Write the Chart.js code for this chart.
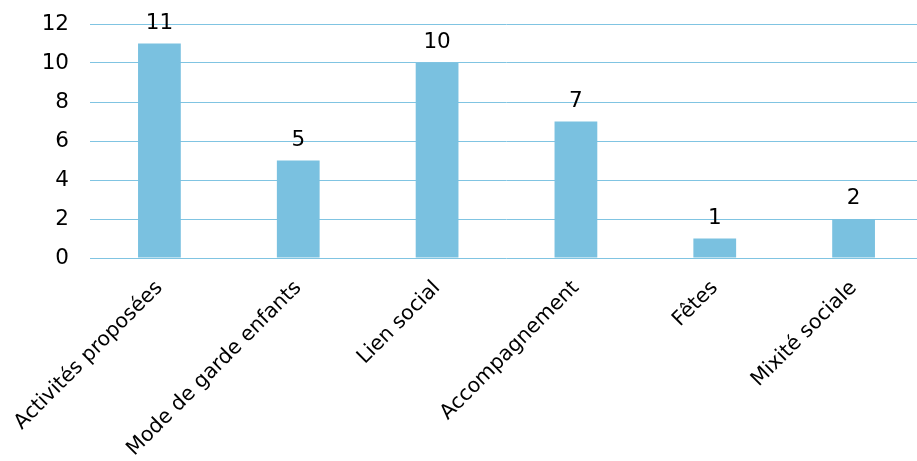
<!DOCTYPE html>
<html>
<head>
<meta charset="utf-8">
<script src="https://cdn.jsdelivr.net/npm/chart.js@4/dist/chart.umd.min.js"></script>
<style>
html,body{margin:0;padding:0;background:#fff;overflow:hidden;width:917px;height:461px;}
canvas{display:block;}
</style>
</head>
<body>
<canvas id="c" width="923" height="461" style="width:923px;height:461px"></canvas>
<script>
const categories = ["Activités proposées", "Mode de garde enfants", "Lien social", "Accompagnement", "Fêtes", "Mixité sociale"];
const values = [11, 5, 10, 7, 1, 2];
const yTicks = [0, 2, 4, 6, 8, 10, 12];

const FONT = "'DejaVu Sans', Verdana, sans-serif";
const BAR = '#7AC1E0';
const GRID = '#80C4E2';

const valueLabels = {
  id: 'valueLabels',
  afterDatasetsDraw(chart) {
    const ctx = chart.ctx;
    const meta = chart.getDatasetMeta(0);
    ctx.save();
    ctx.font = '21.5px ' + FONT;
    ctx.fillStyle = '#000';
    ctx.textAlign = 'center';
    ctx.textBaseline = 'alphabetic';
    meta.data.forEach((bar, i) => {
      ctx.fillText(String(values[i]), bar.x, bar.y - 15);
    });
    ctx.restore();
  }
};

new Chart(document.getElementById('c'), {
  type: 'bar',
  data: {
    labels: categories,
    datasets: [{
      data: values,
      backgroundColor: BAR,
      borderWidth: 0,
      categoryPercentage: 1,
      barPercentage: 0.308
    }]
  },
  options: {
    responsive: false,
    animation: false,
    layout: { padding: { top: 24, left: 0, right: 0, bottom: 0 } },
    plugins: { legend: { display: false }, tooltip: { enabled: false } },
    scales: {
      x: {
        grid: { display: false, drawTicks: false },
        border: { display: false },
        ticks: {
          color: '#000',
          font: { family: FONT, size: 20.5 },
          minRotation: 45, maxRotation: 45,
          padding: 18,
          autoSkip: false
        },
        afterFit(scale) { scale.height = 203; scale.paddingLeft = 0; scale.paddingRight = 0; }
      },
      y: {
        min: 0, max: 12,
        afterBuildTicks(scale) { scale.ticks = yTicks.map(v => ({ value: v })); },
        grid: { color: GRID, lineWidth: 1, drawTicks: false },
        border: { display: false },
        ticks: {
          color: '#000',
          font: { family: FONT, size: 21.5 },
          padding: 21
        },
        afterFit(scale) { scale.width = 90; scale.paddingTop = 0; scale.paddingBottom = 0; }
      }
    }
  },
  plugins: [valueLabels]
});
</script>
</body>
</html>
